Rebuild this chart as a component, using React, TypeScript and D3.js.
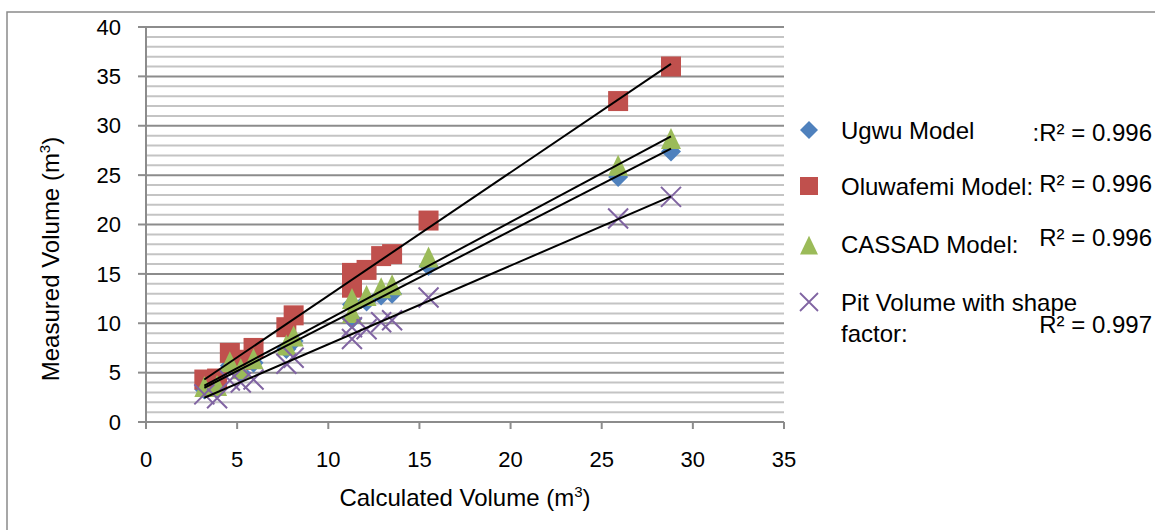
import React from "react";
import * as d3 from "d3";

const calculated = [3.2, 3.9, 4.6, 5.2, 5.9, 7.7, 8.1, 11.3, 11.3, 12.1, 12.9, 13.5, 15.5, 25.9, 28.8];
const ugwu = [3.3, 3.4, 5.7, 5.0, 6.0, 7.4, 8.2, 11.9, 10.4, 12.2, 12.8, 13.0, 15.8, 24.8, 27.4];
const oluwafemi = [4.3, 4.4, 7.0, 6.3, 7.5, 9.6, 10.8, 15.1, 13.6, 15.4, 16.8, 17.0, 20.4, 32.5, 36.0];
const cassad = [3.5, 3.6, 6.0, 5.3, 6.3, 7.7, 8.6, 12.4, 11.0, 12.7, 13.5, 13.8, 16.6, 25.9, 28.6];
const pitVolume = [2.8, 2.4, 4.2, 4.0, 4.3, 5.9, 6.5, 9.6, 8.4, 9.4, 10.1, 10.3, 12.6, 20.6, 22.8];

const xTicks = [0, 5, 10, 15, 20, 25, 30, 35];
const yTicks = [0, 5, 10, 15, 20, 25, 30, 35, 40];
const legendNames = ["Ugwu Model", "Oluwafemi Model:", "CASSAD Model:", "Pit Volume with shape|factor:"];
const r2Labels = [":R² = 0.996", "R² = 0.996", "R² = 0.996", "R² = 0.997"];

const FONT = "'Liberation Sans', Arial, sans-serif";

type Shape = "diamond" | "square" | "triangle" | "x";

function markerPath(shape: Shape, s: number): string {
  const h = s / 2;
  if (shape === "diamond") return `M0,${-h}L${h},0L0,${h}L${-h},0Z`;
  if (shape === "square") return `M${-h},${-h}H${h}V${h}H${-h}Z`;
  if (shape === "triangle") return `M0,${-h * 1.15}L${h},${h * 0.95}L${-h},${h * 0.95}Z`;
  return `M${-h},${-h}L${h},${h}M${h},${-h}L${-h},${h}`;
}

function regression(xs: number[], ys: number[]) {
  const mx = d3.mean(xs) as number;
  const my = d3.mean(ys) as number;
  let num = 0;
  let den = 0;
  xs.forEach((x, i) => {
    num += (x - mx) * (ys[i] - my);
    den += (x - mx) * (x - mx);
  });
  const slope = num / den;
  return { slope, intercept: my - slope * mx };
}

export default function App() {
  const left = 146;
  const right = 784;
  const top = 27;
  const bottom = 422;
  const x = d3.scaleLinear().domain([0, 35]).range([left, right]);
  const y = d3.scaleLinear().domain([0, 40]).range([bottom, top]);

  const series = [
    { name: legendNames[0], values: ugwu, color: "#4F81BD", shape: "diamond" as Shape },
    { name: legendNames[1], values: oluwafemi, color: "#C0504D", shape: "square" as Shape },
    { name: legendNames[2], values: cassad, color: "#9BBB59", shape: "triangle" as Shape },
    { name: legendNames[3], values: pitVolume, color: "#8064A2", shape: "x" as Shape },
  ];

  const minorTicks = d3.range(0, 41, 1);
  const xMin = d3.min(calculated) as number;
  const xMax = d3.max(calculated) as number;

  const legendY = [130, 186, 246, 302];
  const legendTextY = [139, 195, 253, 311];
  const r2Y = [141, 192, 246, 333];

  return (
    <svg width={1155} height={530} style={{ position: "absolute", left: 0, top: 0 }} fontFamily={FONT}>
      <rect x={0} y={0} width={1155} height={530} fill="#fff" />
      <rect x={7} y={12} width={1160} height={540} fill="none" stroke="#8a8a8a" strokeWidth={1.5} />
      {/* gridlines */}
      {minorTicks.map((t) => (
        <line
          key={"g" + t}
          x1={left}
          x2={right}
          y1={y(t)}
          y2={y(t)}
          stroke={t % 5 === 0 ? "#8c8c8c" : "#c4c4c4"}
          strokeWidth={2}
        />
      ))}
      {/* axes */}
      <line x1={left} x2={left} y1={top - 1} y2={bottom} stroke="#8c8c8c" strokeWidth={2} />
      <line x1={left} x2={right} y1={bottom} y2={bottom} stroke="#8c8c8c" strokeWidth={2} />
      {yTicks.map((t) => (
        <g key={"yt" + t}>
          <line x1={left - 8} x2={left} y1={y(t)} y2={y(t)} stroke="#8c8c8c" strokeWidth={2} />
          <text x={121} y={y(t)} dy="0.35em" textAnchor="end" fontSize={22} fill="#000">
            {t}
          </text>
        </g>
      ))}
      {xTicks.map((t) => (
        <g key={"xt" + t}>
          <line x1={x(t)} x2={x(t)} y1={bottom} y2={bottom + 7} stroke="#8c8c8c" strokeWidth={2} />
          <text x={x(t)} y={467} textAnchor="middle" fontSize={22} fill="#000">
            {t}
          </text>
        </g>
      ))}
      <text x={465} y={506} textAnchor="middle" fontSize={24} fill="#000">
        Calculated Volume (m<tspan dy={-9} fontSize={15}>3</tspan><tspan dy={9}>)</tspan>
      </text>
      <text transform={`translate(59,259) rotate(-90)`} textAnchor="middle" fontSize={24} fill="#000">
        Measured Volume (m<tspan dy={-9} fontSize={15}>3</tspan><tspan dy={9}>)</tspan>
      </text>
      {/* markers */}
      {series.map((s) => (
        <g key={s.name}>
          {s.values.map((v, i) => (
            <path
              key={i}
              transform={`translate(${x(calculated[i])},${y(v)})`}
              d={markerPath(s.shape, 20)}
              fill={s.shape === "x" ? "none" : s.color}
              stroke={s.shape === "x" ? s.color : "none"}
              strokeWidth={2}
            />
          ))}
        </g>
      ))}
      {/* trend lines */}
      {series.map((s) => {
        const r = regression(calculated, s.values);
        return (
          <line
            key={"tl" + s.name}
            x1={x(xMin)}
            x2={x(xMax)}
            y1={y(r.slope * xMin + r.intercept)}
            y2={y(r.slope * xMax + r.intercept)}
            stroke="#000"
            strokeWidth={2}
          />
        );
      })}
      {/* legend */}
      {series.map((s, i) => {
        const lines = s.name.split("|");
        return (
          <g key={"lg" + s.name}>
            <path
              transform={`translate(809,${legendY[i]})`}
              d={markerPath(s.shape, 18)}
              fill={s.shape === "x" ? "none" : s.color}
              stroke={s.shape === "x" ? s.color : "none"}
              strokeWidth={1.8}
            />
            {lines.map((ln, j) => (
              <text key={j} x={841} y={legendTextY[i] + j * 31} fontSize={24} fill="#000">
                {ln}
              </text>
            ))}
            <text x={1152} y={r2Y[i]} textAnchor="end" fontSize={24} fill="#000">
              {r2Labels[i]}
            </text>
          </g>
        );
      })}
    </svg>
  );
}
